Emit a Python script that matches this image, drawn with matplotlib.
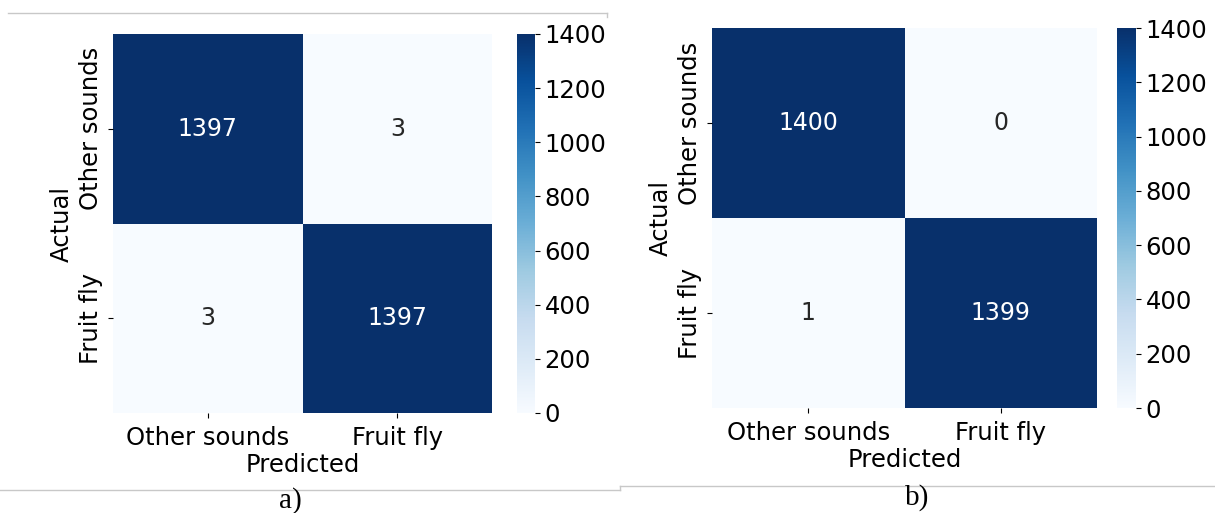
import numpy as np
import matplotlib
matplotlib.use("Agg")
import matplotlib.pyplot as plt
import seaborn as sns
from matplotlib.lines import Line2D

CLASSES = ["Other sounds", "Fruit fly"]
CM_A = [[1397, 3], [3, 1397]]
CM_B = [[1400, 0], [1, 1399]]
CBAR_TICKS = [0, 200, 400, 600, 800, 1000, 1200, 1400]
PANEL_TAGS = ["a)", "b)"]

W, H = 1215, 513
FS = 17.5
fig = plt.figure(figsize=(W / 100, H / 100), dpi=100)
plt.rcParams["font.family"] = ["DejaVu Sans"]

def box(l, t, r, b):
    return [l / W, 1 - b / H, (r - l) / W, (b - t) / H]

def panel(cm, hm_box, cb_box):
    ax = fig.add_axes(box(*hm_box))
    cax = fig.add_axes(box(*cb_box))
    sns.heatmap(np.array(cm), annot=True, fmt="d", cmap="Blues", vmin=0, vmax=1400,
                xticklabels=CLASSES, yticklabels=CLASSES, ax=ax, cbar_ax=cax,
                annot_kws={"fontsize": 17}, cbar_kws={"ticks": CBAR_TICKS})
    ax.set_xlabel("Predicted", fontsize=FS, labelpad=2)
    ax.set_ylabel("Actual", fontsize=FS, labelpad=4)
    ax.set_xticklabels(CLASSES, fontsize=FS, rotation=0)
    ax.set_yticklabels(CLASSES, fontsize=FS, rotation=90, va="center")
    ax.tick_params(axis="x", pad=6)
    cax.tick_params(labelsize=FS)
    return ax

panel(CM_A, (113, 34, 492, 413), (517, 34, 535, 413))
panel(CM_B, (712, 28, 1097, 408), (1117, 28, 1136, 408))

# panel frame lines
grey = "#c8c8c8"
fig.add_artist(Line2D([8 / W, 607 / W], [1 - 13 / H, 1 - 13 / H], color=grey, lw=1))
fig.add_artist(Line2D([607 / W, 607 / W], [1 - 13 / H, 1 - 17 / H], color=grey, lw=1))
fig.add_artist(Line2D([0, 620 / W], [1 - 490 / H, 1 - 490 / H], color=grey, lw=1))
fig.add_artist(Line2D([620 / W, 1], [1 - 486 / H, 1 - 486 / H], color=grey, lw=1))
fig.add_artist(Line2D([620 / W, 620 / W], [1 - 486 / H, 1 - 490 / H], color=grey, lw=1))

fig.text(290 / W, 1 - 501 / H, PANEL_TAGS[0], family="Liberation Serif", fontsize=21,
         ha="center", va="center")
fig.text(917 / W, 1 - 498 / H, PANEL_TAGS[1], family="Liberation Serif", fontsize=21,
         ha="center", va="center")

fig.savefig("out.png", dpi=100)
